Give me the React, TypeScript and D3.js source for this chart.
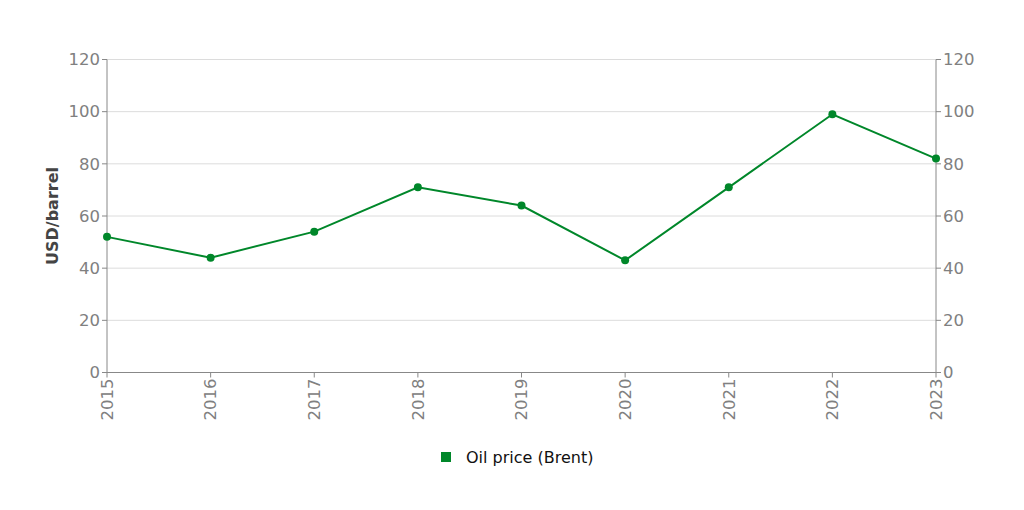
import React from "react";
import * as d3 from "d3";

const years = ["2015", "2016", "2017", "2018", "2019", "2020", "2021", "2022", "2023"];
const brent = [52, 44, 54, 71, 64, 43, 71, 99, 82];
const yTicks = [0, 20, 40, 60, 80, 100, 120];
const seriesName = "Oil price (Brent)";
const yTitle = "USD/barrel";

const W = 1024, H = 510;
const left = 107, right = 936, top = 59.5, bottom = 372.5;
const green = "#00872a";
const font = "DejaVu Sans, sans-serif";

export default function App() {
  const x = d3.scalePoint<string>().domain(years).range([left, right]);
  const y = d3.scaleLinear().domain([0, 120]).range([bottom, top]);
  const line = d3.line<number>().x((_, i) => x(years[i])!).y((d) => y(d));
  return (
    <svg width={W} height={H} style={{ position: "absolute", left: 0, top: 0 }} fontFamily={font}>
      <rect width={W} height={H} fill="#fff" />
      {yTicks.map((t) => (
        <line key={"g" + t} x1={left} x2={right} y1={y(t)} y2={y(t)} stroke="#dcdcdc" strokeWidth={1} />
      ))}
      <line x1={left} x2={left} y1={top} y2={bottom} stroke="#888" />
      <line x1={right} x2={right} y1={top} y2={bottom} stroke="#888" />
      <line x1={left} x2={right} y1={bottom} y2={bottom} stroke="#888" />
      {yTicks.map((t) => (
        <g key={"t" + t}>
          <line x1={left - 5} x2={left} y1={y(t)} y2={y(t)} stroke="#888" />
          <text x={left - 7} y={y(t)} dy="0.35em" textAnchor="end" fontSize={16.5} fill="#808080">{t}</text>
          <line x1={right} x2={right + 5} y1={y(t)} y2={y(t)} stroke="#888" />
          <text x={right + 7} y={y(t)} dy="0.35em" textAnchor="start" fontSize={16.5} fill="#808080">{t}</text>
        </g>
      ))}
      {years.map((yr) => (
        <g key={yr}>
          <line x1={x(yr)} x2={x(yr)} y1={bottom} y2={bottom + 5} stroke="#888" />
          <text transform={`translate(${x(yr)},${bottom + 6}) rotate(-90)`} dy="0.35em" textAnchor="end" fontSize={16.5} fill="#808080">{yr}</text>
        </g>
      ))}
      <text transform={`translate(52,${(top + bottom) / 2}) rotate(-90)`} dy="0.35em" textAnchor="middle" fontSize={16} fontWeight="bold" fill="#444">{yTitle}</text>
      <path d={line(brent)!} fill="none" stroke={green} strokeWidth={2} />
      {brent.map((v, i) => (
        <circle key={i} cx={x(years[i])} cy={y(v)} r={4} fill={green} />
      ))}
      <rect x={441} y={452} width={10} height={10} fill={green} />
      <text x={466} y={463} fontSize={16} fill="#111">{seriesName}</text>
    </svg>
  );
}
